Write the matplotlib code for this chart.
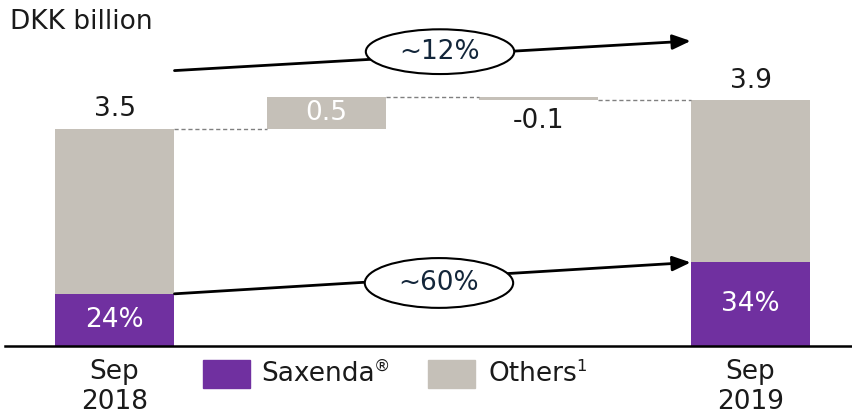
import matplotlib
matplotlib.use("Agg")
import matplotlib.pyplot as plt
from matplotlib.patches import Ellipse, Rectangle

# ---- data ----
categories = ["Sep\n2018", "", "", "Sep\n2019"]
start_total = 3.45
increase = 0.50
decrease = -0.05
end_total = 3.90
saxenda_share = [0.24, 0.34]
total_labels = ["3.5", "0.5", "-0.1", "3.9"]
share_labels = ["24%", "34%"]
growth_labels = ["~12%", "~60%"]
legend_labels = ["Saxenda", "Others"]
legend_sups = ["\u00ae", "1"]
unit_label = "DKK billion"

PURPLE = "#7030A0"
GREY = "#C5C0B8"
TXT = "#1a1a1a"
NAVY = "#13263a"
FS = 19

W, H = 853, 415
fig = plt.figure(figsize=(W / 100, H / 100), dpi=100)
ax = fig.add_axes([5 / W, 69 / H, 848 / W, 346 / H])
ax.set_xlim(-0.517, 3.483)
ax.set_ylim(0, 5.49)
for s in ["top", "left", "right"]:
    ax.spines[s].set_visible(False)
ax.spines["bottom"].set_linewidth(1.8)
ax.spines["bottom"].set_color("black")
ax.set_xticks([0, 3])
ax.set_xticklabels([categories[0], categories[3]], fontsize=FS, color=TXT, linespacing=1.2)
ax.tick_params(axis="x", length=0, pad=9)
ax.set_yticks([])

bw = 0.565
# start bar
sax0 = start_total * saxenda_share[0]
ax.bar(0, sax0, bw, color=PURPLE)
ax.bar(0, start_total - sax0, bw, bottom=sax0, color=GREY)
# increase
ax.bar(1, increase, bw, bottom=start_total, color=GREY)
# decrease
mid = start_total + increase
ax.bar(2, -decrease, bw, bottom=mid + decrease, color=GREY)
# end bar
sax3 = end_total * saxenda_share[1]
ax.bar(3, sax3, bw, color=PURPLE)
ax.bar(3, end_total - sax3, bw, bottom=sax3, color=GREY)

# connectors
dash = dict(color="#808080", lw=1.0, ls=(0, (3, 2)))
ax.plot([bw / 2, 1 - bw / 2], [start_total] * 2, **dash)
ax.plot([1 + bw / 2, 2 - bw / 2], [mid] * 2, **dash)
ax.plot([2 + bw / 2, 3 - bw / 2], [mid + decrease] * 2, **dash)

# labels
ax.text(0, start_total + 0.1, total_labels[0], ha="center", va="bottom", fontsize=FS, color=TXT)
ax.text(1, start_total + increase / 2, total_labels[1], ha="center", va="center", fontsize=FS, color="white")
ax.text(2, mid + decrease - 0.12, total_labels[2], ha="center", va="top", fontsize=FS, color=TXT)
ax.text(3, end_total + 0.1, total_labels[3], ha="center", va="bottom", fontsize=FS, color=TXT)
ax.text(0, sax0 / 2, share_labels[0], ha="center", va="center", fontsize=FS, color="white")
ax.text(3, sax3 / 2, share_labels[1], ha="center", va="center", fontsize=FS, color="white")

# growth arrows
def growth(y0, y1, label, ex, ey, ew, eh):
    ax.annotate("", xy=(3 - bw / 2, y1), xytext=(bw / 2, y0),
                arrowprops=dict(arrowstyle="-|>,head_length=1.1,head_width=0.45",
                                color="black", lw=2.0, shrinkA=0, shrinkB=0))
    ax.add_patch(Ellipse((ex, ey), ew, eh, facecolor="white", edgecolor="black", lw=1.5, zorder=5))
    ax.text(ex, ey, label, ha="center", va="center", fontsize=FS, color=NAVY, zorder=6)

growth(4.37, 4.84, growth_labels[0], 1.535, 4.67, 0.70, 0.71)
growth(sax0, sax3, growth_labels[1], 1.53, 1.00, 0.70, 0.79)

# unit label
fig.text(10 / W, 1 - 22 / H, unit_label, fontsize=FS, color=TXT, ha="left", va="center")

# legend (manual)
leg = [(203, 261, PURPLE), (428, 489, GREY)]
for (bx, tx, col), lab, sup in zip(leg, legend_labels, legend_sups):
    fig.patches.append(Rectangle((bx / W, 1 - 388 / H), 47 / W, 28 / H,
                                 transform=fig.transFigure, color=col))
    t = fig.text(tx / W, 1 - 374 / H, lab, fontsize=FS, color=TXT, va="center", ha="left")
    fig.canvas.draw()
    bb = t.get_window_extent()
    fig.text((bb.x1 - 1) / W, 1 - 366 / H, sup, fontsize=FS * 0.62, color=TXT, va="center", ha="left")

fig.savefig("out.png", dpi=100)
